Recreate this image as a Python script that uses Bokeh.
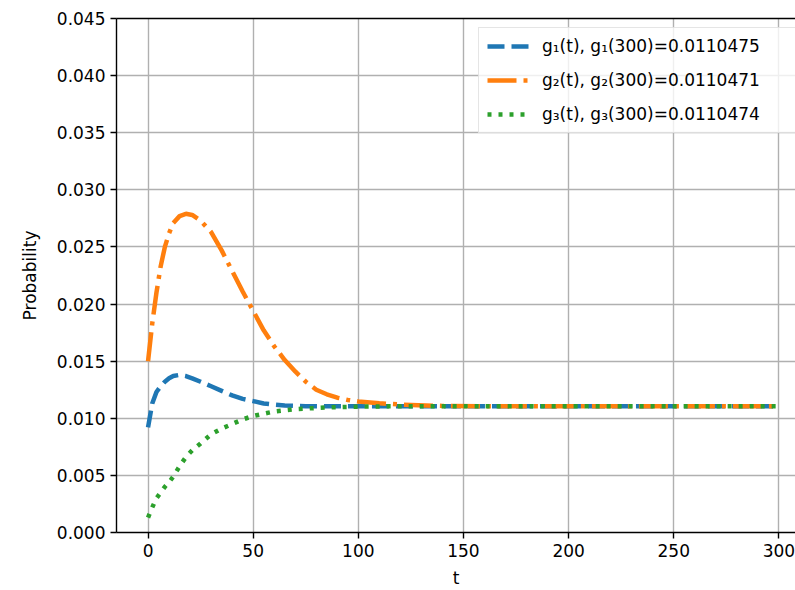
from bokeh.plotting import figure
from bokeh.models import (Range1d, FixedTicker, NumeralTickFormatter, LinearAxis,
                          Legend, LegendItem, ColumnDataSource)
from bokeh.embed import file_html
from bokeh.resources import INLINE

# ---- data ----
t = [0, 2, 4, 6, 8, 10, 12, 15, 18, 21, 25, 30, 35, 40, 45, 50, 55, 60, 65, 70,
     75, 80, 85, 90, 95, 100, 110, 120, 140, 160, 200, 250, 300]
g1 = [0.0092, 0.0113, 0.0123, 0.0128, 0.0132, 0.0135, 0.0137, 0.0138, 0.0137, 0.0135,
      0.0132, 0.0128, 0.0124, 0.0120, 0.0117, 0.0115, 0.0113, 0.0112, 0.01112, 0.01108,
      0.01106, 0.01105, 0.01105, 0.01105, 0.01105, 0.01105, 0.01105, 0.01105, 0.01105,
      0.01105, 0.01105, 0.01105, 0.01105]
g2 = [0.0150, 0.0183, 0.0210, 0.0233, 0.0250, 0.0262, 0.0271, 0.0277, 0.0279, 0.0278,
      0.0273, 0.0263, 0.0247, 0.0229, 0.0211, 0.0194, 0.0177, 0.0163, 0.0151, 0.0141,
      0.0132, 0.0125, 0.0121, 0.0118, 0.0116, 0.01147, 0.01132, 0.0112, 0.01108,
      0.01106, 0.01105, 0.01105, 0.01105]
g3 = [0.0013, 0.0022, 0.0030, 0.0035, 0.0040, 0.0044, 0.0049, 0.0058, 0.0066, 0.0072,
      0.0078, 0.0086, 0.0091, 0.0095, 0.0099, 0.0102, 0.0104, 0.0106, 0.0107, 0.0108,
      0.01085, 0.0109, 0.01095, 0.01098, 0.01100, 0.01102, 0.01104, 0.01105, 0.01105,
      0.01105, 0.01105, 0.01105, 0.01105]
labels = ["g\u2081(t), g\u2081(300)=0.0110475",
          "g\u2082(t), g\u2082(300)=0.0110471",
          "g\u2083(t), g\u2083(300)=0.0110474"]
x_ticks = [0, 50, 100, 150, 200, 250, 300]
y_ticks = [0.0, 0.005, 0.010, 0.015, 0.020, 0.025, 0.030, 0.035, 0.040, 0.045]

FONT = "DejaVu Sans"

p = figure(width=795, height=590, output_backend="svg", toolbar_location=None,
           x_range=Range1d(-15, 307.9), y_range=Range1d(0, 0.045),
           min_border_left=116, min_border_right=0, min_border_top=18,
           min_border_bottom=57)
p.outline_line_color = None
p.background_fill_color = "white"
p.border_fill_color = "white"

src = ColumnDataSource(dict(t=t, g1=g1, g2=g2, g3=g3))
r1 = p.line("t", "g1", source=src, line_color="#1f77b4", line_width=4.5,
            line_dash="17 7", line_cap="butt")
r2 = p.line("t", "g2", source=src, line_color="#ff7f0e", line_width=4.5,
            line_dash="29 7 4 7", line_cap="butt")
r3 = p.line("t", "g3", source=src, line_color="#2ca02c", line_width=4.5,
            line_dash="4 7", line_cap="butt")

for ax in (p.xaxis[0], p.yaxis[0]):
    ax.axis_line_width = 1.4
    ax.axis_line_color = "black"
    ax.major_tick_line_width = 1.4
    ax.major_tick_line_color = "black"
    ax.major_tick_out = 6
    ax.major_tick_in = 0
    ax.minor_tick_line_color = None
    ax.major_label_text_font = FONT
    ax.major_label_text_font_size = "17px"
    ax.major_label_text_color = "black"
    ax.axis_label_text_font = FONT
    ax.axis_label_text_font_size = "17px"
    ax.axis_label_text_font_style = "normal"
    ax.axis_label_text_color = "black"
    ax.major_label_standoff = 5

p.xaxis[0].ticker = FixedTicker(ticks=x_ticks)
p.yaxis[0].ticker = FixedTicker(ticks=y_ticks)
p.yaxis[0].formatter = NumeralTickFormatter(format="0.000")
p.xaxis[0].axis_label = "t"
p.yaxis[0].axis_label = "Probability"
p.xaxis[0].axis_label_standoff = 8
p.yaxis[0].axis_label_standoff = 14

top = LinearAxis(ticker=FixedTicker(ticks=[]), axis_line_width=1.4,
                 axis_line_color="black", major_tick_line_color=None,
                 minor_tick_line_color=None, major_label_text_font_size="0px")
p.add_layout(top, "above")

p.xgrid.ticker = FixedTicker(ticks=x_ticks)
p.ygrid.ticker = FixedTicker(ticks=y_ticks)
for g in (p.xgrid[0], p.ygrid[0]):
    g.grid_line_color = "#b0b0b0"
    g.grid_line_width = 1.4

legend = Legend(items=[LegendItem(label=labels[0], renderers=[r1]),
                       LegendItem(label=labels[1], renderers=[r2]),
                       LegendItem(label=labels[2], renderers=[r3])],
                location=(362, 399))
legend.label_text_font = FONT
legend.label_text_font_size = "17px"
legend.label_text_color = "black"
legend.glyph_width = 43
legend.glyph_height = 20
legend.label_height = 20
legend.label_width = 250
legend.spacing = 14
legend.padding = 8
legend.margin = 0
legend.label_standoff = 12
legend.border_line_color = "#cccccc"
legend.border_line_width = 1.4
legend.background_fill_color = "white"
legend.background_fill_alpha = 0.8
p.add_layout(legend, "center")

open("out.html", "w").write(file_html(p, INLINE))
